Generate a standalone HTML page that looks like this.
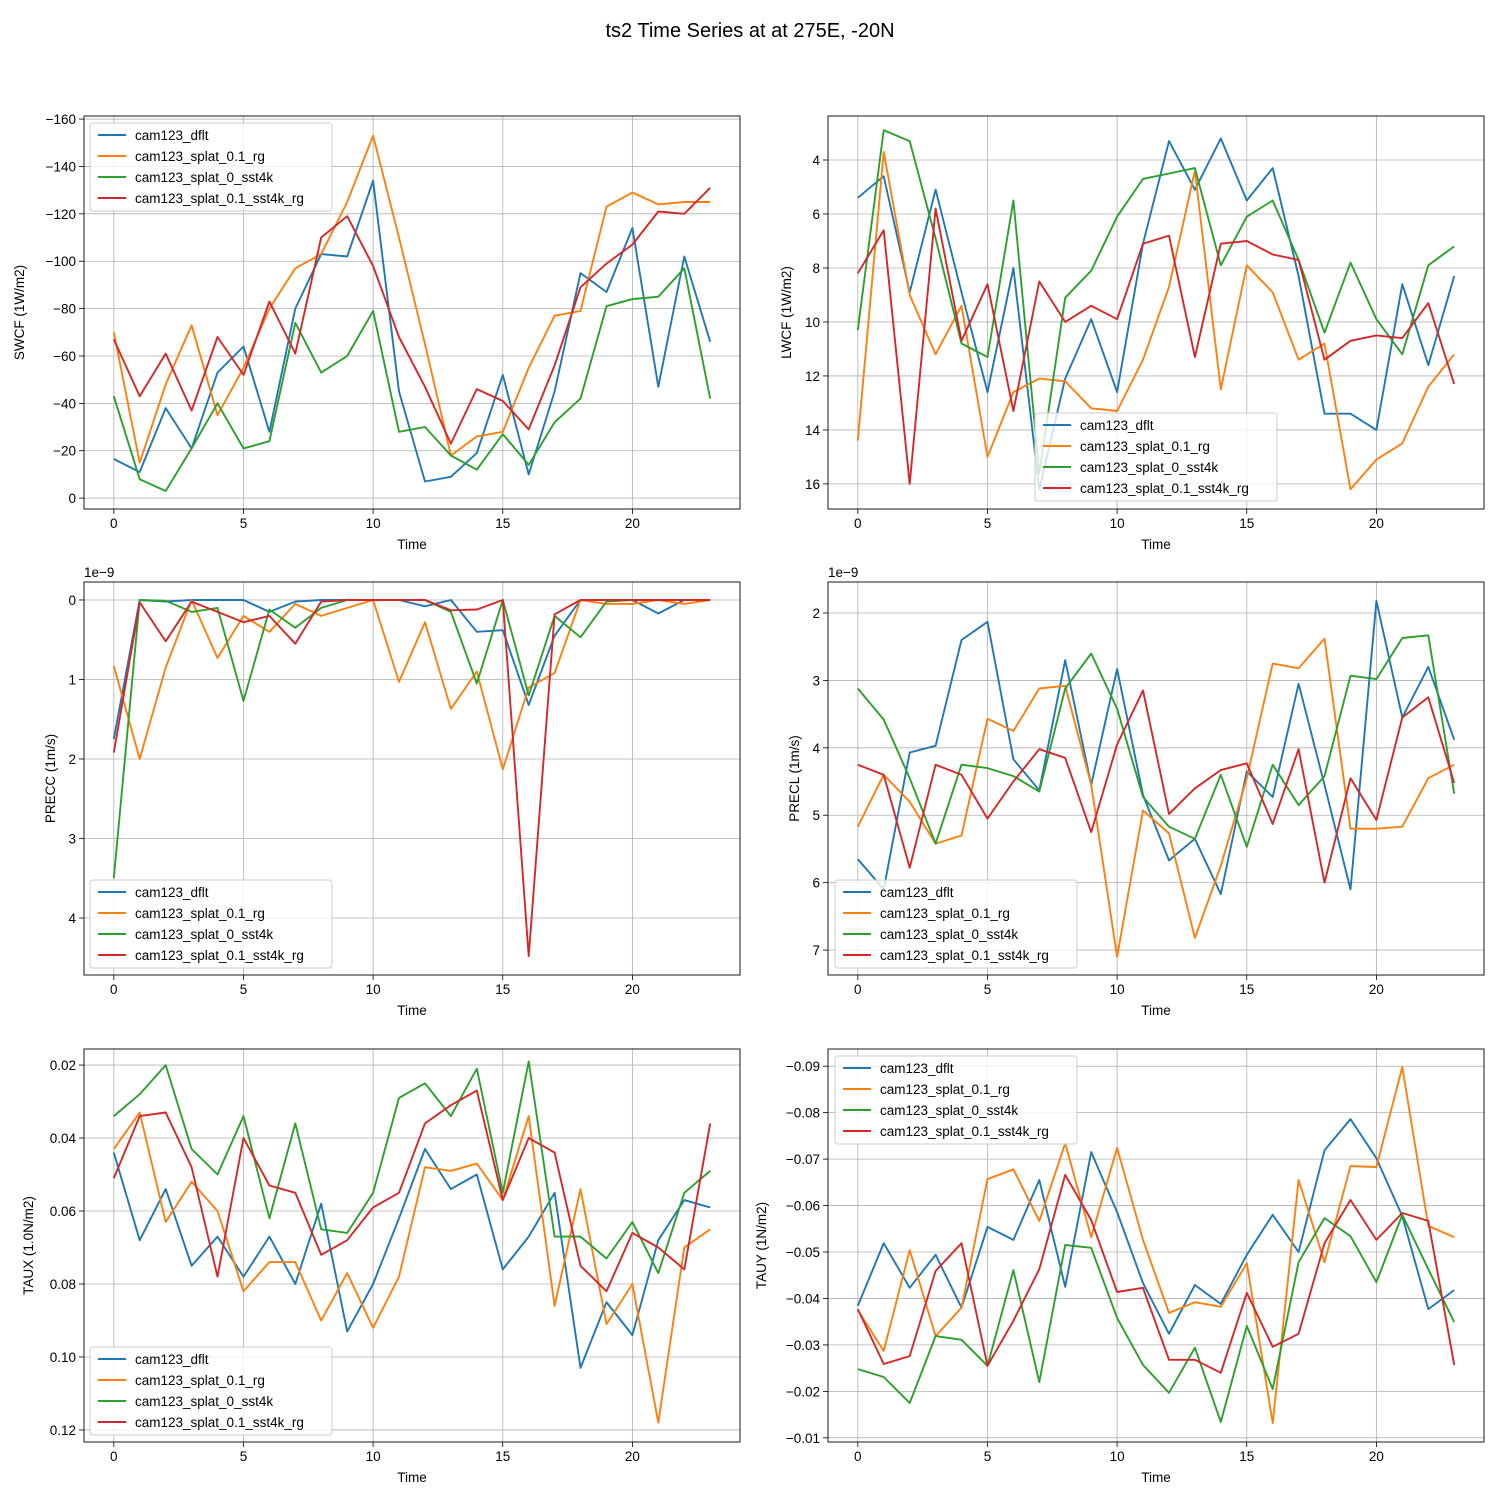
<!DOCTYPE html>
<html><head><meta charset="utf-8">
<style>
body{margin:0;background:#fff;}
svg{display:block;font-family:"Liberation Sans","DejaVu Sans",sans-serif;}
</style></head>
<body>
<svg id="fig" width="1500" height="1500" viewBox="0 0 1500 1500">
<rect width="1500" height="1500" fill="#fff"/>
<text x="750" y="37" text-anchor="middle" font-size="20">ts2 Time Series at at 275E, -20N</text>
</svg>
<script>
const seriesNames = ["cam123_dflt","cam123_splat_0.1_rg","cam123_splat_0_sst4k","cam123_splat_0.1_sst4k_rg"];
const colors = ["#1f77b4","#ff7f0e","#2ca02c","#d62728"];
const times = [0,1,2,3,4,5,6,7,8,9,10,11,12,13,14,15,16,17,18,19,20,21,22,23];
const xTicks = [0,5,10,15,20];

const swcfDflt = [-16.5,-11,-38,-21,-53,-64,-28,-80,-103,-102,-134,-45,-7,-9,-19,-52,-10,-45,-95,-87,-114,-47,-102,-66];
const swcfRg = [-70,-15,-48,-73,-35,-55,-80,-97,-103,-125,-153,-110,-65,-18,-26,-28,-55,-77,-79,-123,-129,-124,-125,-125];
const swcfSst4k = [-43,-8,-3,-21,-40,-21,-24,-74,-53,-60,-79,-28,-30,-18,-12,-27,-14,-32,-42,-81,-84,-85,-97,-42];
const swcfSst4kRg = [-67,-43,-61,-37,-68,-52,-83,-61,-110,-119,-98,-68,-47,-23,-46,-41,-29,-56,-89,-99,-107,-121,-120,-131];
const swcfTicks = [-160,-140,-120,-100,-80,-60,-40,-20,0];

const lwcfDflt = [5.4,4.6,8.9,5.1,8.9,12.6,8.0,16.2,12.1,9.9,12.6,7.1,3.3,5.1,3.2,5.5,4.3,8.3,13.4,13.4,14.0,8.6,11.6,8.3];
const lwcfRg = [14.4,3.7,9.0,11.2,9.4,15.0,12.6,12.1,12.2,13.2,13.3,11.4,8.7,4.4,12.5,7.9,8.9,11.4,10.8,16.2,15.1,14.5,12.4,11.2];
const lwcfSst4k = [10.3,2.9,3.3,6.9,10.8,11.3,5.5,15.6,9.1,8.1,6.1,4.7,4.5,4.3,7.9,6.1,5.5,7.7,10.4,7.8,9.9,11.2,7.9,7.2];
const lwcfSst4kRg = [8.2,6.6,16.0,5.8,10.7,8.6,13.3,8.5,10.0,9.4,9.9,7.1,6.8,11.3,7.1,7.0,7.5,7.7,11.4,10.7,10.5,10.6,9.3,12.3];
const lwcfTicks = [4,6,8,10,12,14,16];

const preccDflt = [1.75,0,0.02,0,0,0,0.15,0.02,0,0,0,0,0.08,0,0.4,0.38,1.32,0.45,0,0,0,0.17,0,0];
const preccRg = [0.83,2.0,0.85,0,0.73,0.2,0.4,0.05,0.2,0.1,0,1.03,0.28,1.37,0.9,2.13,1.1,0.92,0,0.05,0.05,0,0.05,0];
const preccSst4k = [3.5,0,0.01,0.15,0.1,1.27,0.12,0.35,0.1,0,0,0,0,0.15,1.05,0,1.2,0.2,0.47,0.02,0,0,0,0];
const preccSst4kRg = [1.92,0.03,0.52,0.02,0.15,0.28,0.2,0.55,0.02,0,0,0,0,0.13,0.12,0,4.48,0.18,0,0,0,0,0,0];
const preccTicks = [0,1,2,3,4];

const preclDflt = [5.65,6.1,4.07,3.97,2.4,2.13,4.17,4.63,2.7,4.55,2.83,4.7,5.67,5.35,6.17,4.35,4.73,3.05,4.55,6.1,1.82,3.55,2.8,3.88];
const preclRg = [5.17,4.4,4.8,5.42,5.3,3.57,3.75,3.12,3.08,4.55,7.1,4.93,5.27,6.82,5.75,4.45,2.75,2.82,2.38,5.2,5.2,5.17,4.45,4.25];
const preclSst4k = [3.12,3.58,4.45,5.42,4.25,4.3,4.42,4.65,3.12,2.6,3.42,4.73,5.17,5.35,4.4,5.47,4.25,4.85,4.42,2.93,2.98,2.37,2.33,4.68];
const preclSst4kRg = [4.25,4.4,5.78,4.25,4.4,5.05,4.5,4.02,4.15,5.25,3.95,3.15,4.98,4.6,4.33,4.23,5.13,4.02,6.0,4.45,5.07,3.55,3.25,4.52];
const preclTicks = [2,3,4,5,6,7];

const tauxDflt = [0.044,0.068,0.054,0.075,0.067,0.078,0.067,0.080,0.058,0.093,0.080,0.062,0.043,0.054,0.050,0.076,0.067,0.055,0.103,0.085,0.094,0.068,0.057,0.059];
const tauxRg = [0.043,0.033,0.063,0.052,0.060,0.082,0.074,0.074,0.090,0.077,0.092,0.078,0.048,0.049,0.047,0.057,0.034,0.086,0.054,0.091,0.080,0.118,0.070,0.065];
const tauxSst4k = [0.034,0.028,0.020,0.043,0.050,0.034,0.062,0.036,0.065,0.066,0.055,0.029,0.025,0.034,0.021,0.055,0.019,0.067,0.067,0.073,0.063,0.077,0.055,0.049];
const tauxSst4kRg = [0.051,0.034,0.033,0.048,0.078,0.040,0.053,0.055,0.072,0.068,0.059,0.055,0.036,0.031,0.027,0.057,0.040,0.044,0.075,0.082,0.066,0.070,0.076,0.036];
const tauxTicks = [0.02,0.04,0.06,0.08,0.10,0.12];

const tauyDflt = [-0.0384,-0.0519,-0.0423,-0.0494,-0.0380,-0.0554,-0.0526,-0.0655,-0.0425,-0.0715,-0.0586,-0.0433,-0.0324,-0.0429,-0.0388,-0.0494,-0.0580,-0.0500,-0.0719,-0.0786,-0.0702,-0.0577,-0.0377,-0.0418];
const tauyRg = [-0.0375,-0.0287,-0.0504,-0.0319,-0.0380,-0.0657,-0.0678,-0.0567,-0.0734,-0.0532,-0.0724,-0.0526,-0.0369,-0.0392,-0.0382,-0.0476,-0.0132,-0.0655,-0.0478,-0.0685,-0.0683,-0.0898,-0.0556,-0.0532];
const tauySst4k = [-0.0248,-0.0231,-0.0175,-0.0319,-0.0311,-0.0255,-0.0461,-0.0220,-0.0515,-0.0509,-0.0358,-0.0257,-0.0197,-0.0294,-0.0134,-0.0341,-0.0205,-0.0478,-0.0573,-0.0534,-0.0435,-0.0580,-0.0463,-0.0349];
const tauySst4kRg = [-0.0377,-0.0259,-0.0276,-0.0459,-0.0519,-0.0255,-0.0352,-0.0463,-0.0666,-0.0569,-0.0414,-0.0423,-0.0268,-0.0268,-0.0240,-0.0412,-0.0296,-0.0324,-0.0519,-0.0612,-0.0526,-0.0584,-0.0567,-0.0257];
const tauyTicks = [-0.09,-0.08,-0.07,-0.06,-0.05,-0.04,-0.03,-0.02,-0.01];

const NS = "http://www.w3.org/2000/svg";
const fig = document.getElementById("fig");
function mk(tag, attrs, parent){const e=document.createElementNS(NS,tag);for(const k in attrs)e.setAttribute(k,attrs[k]);(parent||fig).appendChild(e);return e;}
function fmt(v,dec){let s=v.toFixed(dec);return s.replace("-","\u2212");}

const panels = [
 {id:"swcf",label:"SWCF (1W/m2)",x0:84,x1:740,y0:116,y1:509,top:-161.3,bot:4.6,ticks:swcfTicks,dec:0,data:[swcfDflt,swcfRg,swcfSst4k,swcfSst4kRg],lx:24,leg:[90,123],off:null},
 {id:"lwcf",label:"LWCF (1W/m2)",x0:828,x1:1484,y0:116,y1:509,top:2.37,bot:16.93,ticks:lwcfTicks,dec:0,data:[lwcfDflt,lwcfRg,lwcfSst4k,lwcfSst4kRg],lx:791,leg:[1035,413],off:null},
 {id:"precc",label:"PRECC (1m/s)",x0:84,x1:740,y0:582,y1:975,top:-0.226,bot:4.717,ticks:preccTicks,dec:0,data:[preccDflt,preccRg,preccSst4k,preccSst4kRg],lx:55,leg:[90,880],off:"1e\u22129"},
 {id:"precl",label:"PRECL (1m/s)",x0:828,x1:1484,y0:582,y1:975,top:1.54,bot:7.37,ticks:preclTicks,dec:0,data:[preclDflt,preclRg,preclSst4k,preclSst4kRg],lx:799,leg:[835,880],off:"1e\u22129"},
 {id:"taux",label:"TAUX (1.0N/m2)",x0:84,x1:740,y0:1049,y1:1442,top:0.0156,bot:0.1233,ticks:tauxTicks,dec:2,data:[tauxDflt,tauxRg,tauxSst4k,tauxSst4kRg],lx:33,leg:[90,1347],off:null},
 {id:"tauy",label:"TAUY (1N/m2)",x0:828,x1:1484,y0:1049,y1:1442,top:-0.0937,bot:-0.0091,ticks:tauyTicks,dec:2,data:[tauyDflt,tauyRg,tauySst4k,tauySst4kRg],lx:766,leg:[835,1056],off:null}
];

panels.forEach(p=>{
  const g = mk("g",{});
  
  
  const xs = t => p.x0 + (t - (-1.15)) / 25.3 * (p.x1 - p.x0);
  const ys = v => p.y0 + (v - p.top) / (p.bot - p.top) * (p.y1 - p.y0);
  xTicks.forEach(t=>{
    const x = xs(t);
    mk("line",{x1:x,x2:x,y1:p.y0,y2:p.y1,stroke:"#b0b0b0","stroke-width":0.8},g);
    mk("line",{x1:x,x2:x,y1:p.y1,y2:p.y1+5,stroke:"#000","stroke-width":0.8},g);
    const tx = mk("text",{x:x,y:p.y1+19,"text-anchor":"middle","font-size":13.5},g);
    tx.textContent = String(t);
    
    
  });
  p.ticks.forEach(v=>{
    const y = ys(v);
    mk("line",{x1:p.x0,x2:p.x1,y1:y,y2:y,stroke:"#b0b0b0","stroke-width":0.8},g);
    mk("line",{x1:p.x0-5,x2:p.x0,y1:y,y2:y,stroke:"#000","stroke-width":0.8},g);
    const ty = mk("text",{x:p.x0-8,y:y+5,"text-anchor":"end","font-size":13.5},g);
    ty.textContent = fmt(v,p.dec);
    
    
  });
  p.data.forEach((arr,i)=>{
    const d = arr.map((v,k)=>(k?"L":"M")+xs(times[k]).toFixed(1)+","+ys(v).toFixed(1)).join(" ");
    const path = mk("path",{d:d,fill:"none",stroke:colors[i],"stroke-width":1.9,"stroke-linejoin":"round"},g);
    
    
  });
  const frame = mk("rect",{x:p.x0,y:p.y0,width:p.x1-p.x0,height:p.y1-p.y0,fill:"none",stroke:"#000","stroke-width":0.9},g);
  
  
  const xl = mk("text",{x:(p.x0+p.x1)/2,y:p.y1+40,"text-anchor":"middle","font-size":13.5},g);
  xl.textContent = "Time";
  
  
  const yc = (p.y0+p.y1)/2;
  const yl = mk("text",{x:p.lx,y:yc,"text-anchor":"middle","font-size":13.5,transform:"rotate(-90 "+p.lx+" "+yc+")"},g);
  yl.textContent = p.label;
  
  
  if(p.off){
    const o = mk("text",{x:p.x0,y:p.y0-5,"font-size":13.5},g);
    o.textContent = p.off;
    
    
  }
  const lg = mk("g",{},g);
  
  
  const [lx,ly] = p.leg;
  mk("rect",{x:lx,y:ly,width:242,height:88,rx:3,fill:"#fff","fill-opacity":0.8,stroke:"#ccc","stroke-width":1},lg);
  seriesNames.forEach((n,i)=>{
    const yy = ly+12+i*21;
    mk("line",{x1:lx+8,x2:lx+36,y1:yy,y2:yy,stroke:colors[i],"stroke-width":1.9},lg);
    const t = mk("text",{x:lx+45,y:yy+5,"font-size":13.5},lg);
    t.textContent = n;
    
    
  });
});
</script>
</body></html>
